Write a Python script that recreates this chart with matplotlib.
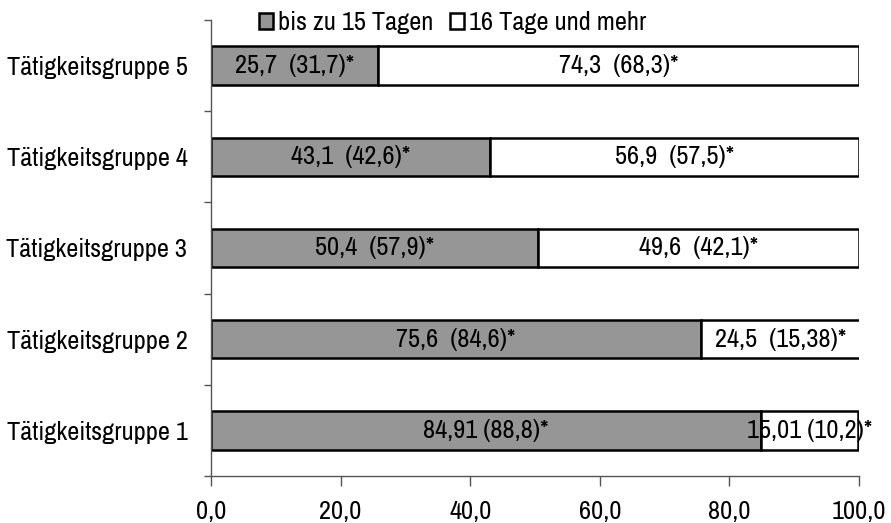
import matplotlib.pyplot as plt
import numpy as np
from matplotlib.ticker import FixedLocator, FuncFormatter

plt.rcParams['font.family'] = ['Archivo Narrow', 'Liberation Sans', 'DejaVu Sans']
FS = 19

groups = ['Tätigkeitsgruppe 1', 'Tätigkeitsgruppe 2', 'Tätigkeitsgruppe 3',
          'Tätigkeitsgruppe 4', 'Tätigkeitsgruppe 5']
short_share = [84.91, 75.6, 50.4, 43.1, 25.7]      # bis zu 15 Tagen
long_share = [15.01, 24.5, 49.6, 56.9, 74.3]       # 16 Tage und mehr
short_prev = [88.8, 84.6, 57.9, 42.6, 31.7]        # Vergleichswerte (*)
long_prev = [10.2, 15.38, 42.1, 57.5, 68.3]
label_gap = [' ', '  ', '  ', '  ', '  ']

GRAY = '#969696'
AXIS = '#555555'


def de(v):
    return str(v).replace('.', ',')


fig = plt.figure(figsize=(8.91, 5.23), dpi=100)
ax = fig.add_axes([0.2368, 0.0899, 0.9641 - 0.2368, 0.9618 - 0.0899])

y = np.arange(len(groups))
h = 0.42
b1 = ax.barh(y, short_share, height=h, color=GRAY, edgecolor='black', linewidth=1.8,
             label='bis zu 15 Tagen')
b2 = ax.barh(y, long_share, left=short_share, height=h, color='white',
             edgecolor='black', linewidth=1.8, label='16 Tage und mehr')

for i in range(len(groups)):
    ax.text(short_share[i] / 2, y[i], f"{de(short_share[i])}{label_gap[i]}({de(short_prev[i])})*",
            ha='center', va='center', fontsize=FS)
    ax.text(short_share[i] + long_share[i] / 2, y[i],
            f"{de(long_share[i])}{label_gap[i]}({de(long_prev[i])})*",
            ha='center', va='center', fontsize=FS, clip_on=False)

ax.set_xlim(0, 100)
ax.set_ylim(-0.5, 4.5)
ax.set_xticks([0, 20, 40, 60, 80, 100])
ax.xaxis.set_major_formatter(FuncFormatter(lambda v, p: f"{v:.1f}".replace('.', ',')))
ax.set_yticks(y)
ax.set_yticklabels(groups)
ax.yaxis.set_minor_locator(FixedLocator(np.arange(-0.5, 5, 1.0)))

ax.tick_params(axis='y', which='major', length=0, pad=17, labelsize=FS)
ax.tick_params(axis='y', which='minor', length=5, width=1, color=AXIS)
ax.tick_params(axis='x', length=7, width=1, color=AXIS, labelsize=FS, pad=10)

for s in ['top', 'right']:
    ax.spines[s].set_visible(False)
for s in ['left', 'bottom']:
    ax.spines[s].set_color(AXIS)
    ax.spines[s].set_linewidth(1)

fig.legend(handles=[b1, b2], loc='center', bbox_to_anchor=(0.508, 0.957), ncol=2,
           frameon=False, fontsize=FS, handlelength=0.55, handleheight=0.55,
           handletextpad=0.2, columnspacing=0.6, borderaxespad=0)

fig.savefig('out.png', dpi=100)
